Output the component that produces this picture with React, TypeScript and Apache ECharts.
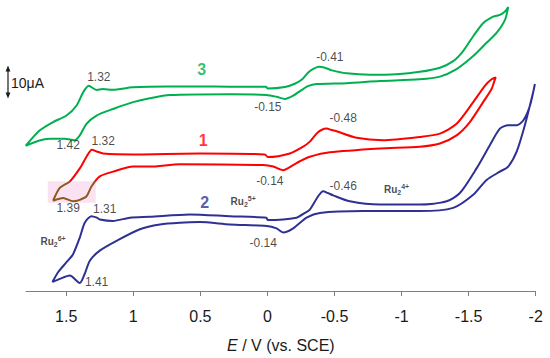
import React, { useEffect, useRef } from "react";
import * as echarts from "echarts";

// E (V vs. SCE), current (µA, offset stacked)
const curve3: number[][] = [
  [1.802, 48.9], [1.697, 54.1], [1.598, 56.9], [1.498, 59.1], [1.424, 62.4], [1.374, 66.9],
  [1.332, 69.1], [1.274, 67.7], [1.227, 68.0], [1.153, 67.8], [1.004, 68.6], [0.75, 68.9],
  [0.504, 68.9], [0.28, 68.8], [0.012, 68.8], [-0.003, 68.2], [-0.13, 68.7], [-0.204, 69.8],
  [-0.257, 71.2], [-0.302, 73.5], [-0.339, 74.7], [-0.383, 75.5], [-0.428, 75.2], [-0.481, 74.3],
  [-0.59, 73.3], [-0.764, 72.8], [-0.963, 73.0], [-1.136, 73.8], [-1.286, 75.2], [-1.385, 77.4],
  [-1.459, 80.8], [-1.534, 85.8], [-1.608, 90.2], [-1.683, 92.4], [-1.733, 93.0], [-1.771, 94.1],
  [-1.795, 95.6],
  [-1.771, 91.3], [-1.708, 86.9], [-1.634, 83.6], [-1.534, 79.1], [-1.41, 74.7], [-1.286, 72.2],
  [-1.136, 71.3], [-0.838, 70.7], [-0.59, 70.0], [-0.366, 69.7], [-0.301, 69.0], [-0.266, 68.0],
  [-0.192, 65.8], [-0.13, 64.7], [-0.068, 65.4], [0.007, 66.0], [0.28, 66.3], [0.728, 66.0],
  [0.877, 64.9], [1.001, 63.6], [1.151, 61.3], [1.274, 59.1], [1.349, 56.3], [1.399, 52.4],
  [1.436, 50.8], [1.511, 51.3], [1.623, 51.3], [1.712, 50.5], [1.802, 48.9],
];

const curve1: number[][] = [
  [1.598, 30.4], [1.548, 34.7], [1.473, 36.9], [1.399, 41.3], [1.349, 45.2], [1.309, 47.6],
  [1.272, 47.0], [1.225, 46.3], [1.001, 46.0], [0.504, 46.3], [0.019, 46.0], [-0.003, 45.1],
  [-0.167, 46.3], [-0.266, 48.6], [-0.316, 50.3], [-0.366, 53.0], [-0.406, 54.3], [-0.441, 54.7],
  [-0.473, 54.3], [-0.515, 53.8], [-0.664, 51.6], [-0.863, 50.8], [-1.136, 51.9], [-1.286, 53.0],
  [-1.41, 56.3], [-1.534, 63.6], [-1.621, 69.1], [-1.671, 71.3], [-1.703, 71.9],
  [-1.696, 71.3], [-1.671, 68.0], [-1.608, 63.6], [-1.509, 56.9], [-1.41, 52.4], [-1.286, 49.7],
  [-1.136, 48.6], [-0.838, 48.0], [-0.465, 46.7], [-0.316, 45.2], [-0.242, 43.7], [-0.192, 42.4],
  [-0.117, 40.7], [-0.043, 41.9], [0.032, 42.4], [0.653, 42.7], [0.877, 41.9], [1.001, 41.9],
  [1.151, 40.2], [1.25, 38.6], [1.312, 35.2], [1.349, 31.9], [1.399, 30.7], [1.449, 30.2],
  [1.523, 31.3], [1.598, 30.4],
];

const curve2: number[][] = [
  [1.603, 3.0], [1.561, 6.3], [1.498, 9.7], [1.449, 12.4], [1.399, 18.0], [1.362, 23.0],
  [1.312, 25.2], [1.272, 24.7], [1.25, 24.1], [1.151, 23.6], [1.026, 24.7], [0.877, 25.0],
  [0.579, 25.8], [0.28, 25.2], [0.008, 24.7], [-0.003, 23.9], [-0.217, 24.7], [-0.279, 26.3],
  [-0.316, 27.4], [-0.378, 31.9], [-0.415, 33.6], [-0.45, 33.0], [-0.49, 32.2], [-0.614, 30.2],
  [-0.838, 29.1], [-1.136, 29.1], [-1.336, 30.2], [-1.435, 33.0], [-1.559, 41.3], [-1.658, 49.1],
  [-1.733, 54.7], [-1.795, 55.8], [-1.858, 55.8], [-1.907, 57.4], [-1.957, 62.4], [-1.994, 69.7],
  [-1.981, 66.9], [-1.919, 55.8], [-1.858, 46.9], [-1.795, 41.9], [-1.733, 40.2], [-1.634, 37.4],
  [-1.534, 32.4], [-1.385, 28.0], [-1.136, 26.9], [-0.714, 26.9], [-0.391, 26.3], [-0.292, 24.7],
  [-0.192, 21.1], [-0.117, 19.7], [-0.068, 21.1], [0.007, 21.9], [0.28, 22.4], [0.504, 23.2],
  [0.653, 23.0], [0.802, 22.4], [0.951, 20.8], [1.125, 16.9], [1.25, 13.6], [1.324, 10.2],
  [1.362, 5.8], [1.399, 2.7], [1.473, 5.2], [1.548, 4.1], [1.603, 3.0],
];

const E_TICKS = [-2, -1.5, -1, -0.5, 0, 0.5, 1, 1.5];

// highlighted region on curve 1 (E range, current range)
const highlightE = [1.638, 1.28];
const highlightI = [29.7, 37.0];

// annotation: [E, I, text, kind]
const annotations: [number, number, string, string][] = [
  [1.257, 72.0, "1.32", "num"],
  [-0.465, 78.7, "-0.41", "num"],
  [-0.003, 62.0, "-0.15", "num"],
  [0.491, 74.7, "3", "c3"],
  [1.486, 49.2, "1.42", "num"],
  [1.225, 50.4, "1.32", "num"],
  [-0.565, 58.2, "-0.48", "num"],
  [0.479, 50.8, "1", "c1"],
  [-0.018, 36.9, "-0.14", "num"],
  [1.486, 28.0, "1.39", "num"],
  [1.213, 27.7, "1.31", "num"],
  [0.467, 29.7, "2", "c2"],
  [0.181, 30.2, "5+", "ru"],
  [-0.565, 35.2, "-0.46", "num"],
  [-0.963, 34.1, "4+", "ru"],
  [0.032, 16.3, "-0.14", "num"],
  [1.598, 16.6, "6+", "ru"],
  [1.274, 3.0, "1.41", "num"],
];

const GREEN = "#00b050";
const RED = "#ff0000";
const BLUE = "#2e3192";
const BROWN = "#8c5a1e";
const FONT = "'Liberation Sans', Arial, sans-serif";

export default function App() {
  const ref = useRef<HTMLDivElement>(null);
  useEffect(() => {
    if (!ref.current) return;
    const chart = echarts.init(ref.current, undefined, { renderer: "svg" });
    const kindColor: Record<string, string> = { c1: RED, c2: BLUE, c3: GREEN };
    const annData = annotations.map(([e, i, t, k]) => {
      let label: any;
      if (k === "num") {
        label = { formatter: t, fontSize: 12, color: "#1a1a1a" };
      } else if (k === "ru") {
        label = {
          formatter: "{a|Ru}{b|2}{c|" + t + "}",
          rich: {
            a: { fontSize: 10, fontWeight: "bold", color: "#1a1a1a", lineHeight: 13, fontFamily: FONT },
            b: { fontSize: 7, fontWeight: "bold", color: "#1a1a1a", lineHeight: 7, verticalAlign: "bottom", fontFamily: FONT },
            c: { fontSize: 7, fontWeight: "bold", color: "#1a1a1a", lineHeight: 7, verticalAlign: "top", fontFamily: FONT },
          },
        };
      } else {
        label = { formatter: t, fontSize: 16, fontWeight: "bold", color: kindColor[k] };
      }
      return { value: [e, i], label: { show: true, position: "inside", fontFamily: FONT, ...label } };
    });

    // red curve coloured brown below the highlight's top edge (vertical gradient over its bbox)
    const ys1 = curve1.map((p) => p[1]);
    const maxI1 = Math.max(...ys1);
    const minI1 = Math.min(...ys1);
    const f = (maxI1 - highlightI[1]) / (maxI1 - minI1);
    const redStroke = new echarts.graphic.LinearGradient(0, 0, 0, 1, [
      { offset: 0, color: RED },
      { offset: f, color: RED },
      { offset: f, color: BROWN },
      { offset: 1, color: BROWN },
    ]);

    const lineBase = { type: "line", showSymbol: false, smooth: 0.25, z: 3 };
    chart.setOption({
      animation: false,
      textStyle: { fontFamily: FONT },
      grid: { left: 26, right: 14.3, top: 0, bottom: 64, containLabel: false },
      xAxis: {
        type: "value",
        inverse: true,
        min: -2,
        max: 1.8,
        interval: 0.5,
        name: "{i|E} / V (vs. SCE)",
        nameLocation: "middle",
        nameGap: 46,
        nameTextStyle: {
          fontSize: 16, color: "#1a1a1a", fontFamily: FONT,
          rich: { i: { fontSize: 16, fontStyle: "italic", color: "#1a1a1a", fontFamily: FONT } },
        },
        axisLine: { show: true, lineStyle: { color: "#808080", width: 1 } },
        axisTick: { show: true, length: 5, customValues: E_TICKS, lineStyle: { color: "#808080" } },
        axisLabel: { customValues: E_TICKS, fontSize: 16, color: "#1a1a1a", margin: 17, fontFamily: FONT },
        splitLine: { show: false },
      },
      yAxis: { type: "value", show: false, min: 0, max: 98, splitLine: { show: false } },
      series: [
        { ...lineBase, name: "3", data: curve3, lineStyle: { width: 2, color: GREEN } },
        {
          ...lineBase, name: "1", data: curve1, lineStyle: { width: 2, color: redStroke },
          markArea: {
            silent: true,
            itemStyle: { color: "#fbe2f3" },
            data: [[{ coord: [highlightE[0], highlightI[1]] }, { coord: [highlightE[1], highlightI[0]] }]],
          },
        },
        { ...lineBase, name: "2", data: curve2, lineStyle: { width: 2, color: BLUE } },
        { type: "scatter", symbolSize: 0, data: annData, z: 5, silent: true },
      ],
      graphic: [
        { type: "line", shape: { x1: 8, y1: 69, x2: 8, y2: 95 }, style: { stroke: "#1a1a1a", lineWidth: 1.2 } },
        { type: "polygon", shape: { points: [[8, 65.5], [5.6, 71.5], [10.4, 71.5]] }, style: { fill: "#1a1a1a" } },
        { type: "polygon", shape: { points: [[8, 98.5], [5.6, 92.5], [10.4, 92.5]] }, style: { fill: "#1a1a1a" } },
        {
          type: "text", x: 11, y: 82.7,
          style: { text: "10μA", fontSize: 14, fill: "#1a1a1a", fontFamily: FONT, verticalAlign: "middle", align: "left" },
        },
      ],
    });
    return () => chart.dispose();
  }, []);
  return <div ref={ref} style={{ width: 550, height: 358, position: "absolute", left: 0, top: 0 }} />;
}
